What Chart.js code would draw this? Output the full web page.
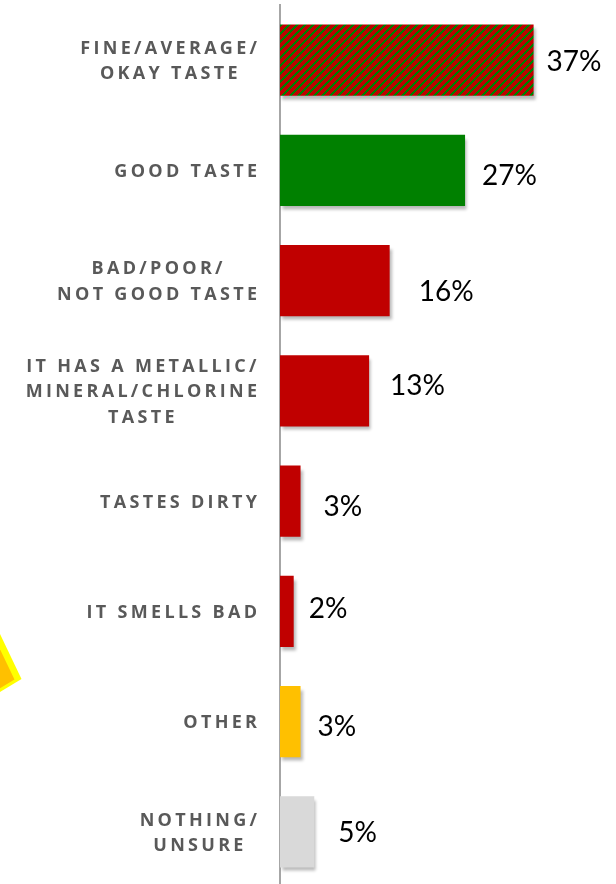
<!DOCTYPE html>
<html>
<head>
<meta charset="utf-8">
<script src="https://cdn.jsdelivr.net/npm/chart.js@4/dist/chart.umd.min.js"></script>
<style>
  html, body { margin: 0; padding: 0; background: #ffffff; overflow: hidden; }
  #wrap { width: 616px; height: 884px; overflow: hidden; }
  canvas { display: block; }
</style>
</head>
<body>
<div id="wrap"><canvas id="c" width="616" height="887"></canvas></div>
<script>
// Survey answers about tap-water taste (share of respondents, %)
const categories = [
  ['FINE/AVERAGE/', 'OKAY TASTE'],
  ['GOOD TASTE'],
  ['BAD/POOR/', 'NOT GOOD TASTE'],
  ['IT HAS A METALLIC/', 'MINERAL/CHLORINE', 'TASTE'],
  ['TASTES DIRTY'],
  ['IT SMELLS BAD'],
  ['OTHER'],
  ['NOTHING/', 'UNSURE']
];
const values = [37, 27, 16, 13, 3, 2, 3, 5];
const valueLabels = ['37%', '27%', '16%', '13%', '3%', '2%', '3%', '5%'];

// Colours
const RED = '#C00000';
const GREEN = '#008000';
const AMBER = '#FFC000';
const GREY = '#D9D9D9';

// Red/green upward-diagonal stripe fill for the mixed answer
function stripePattern() {
  const t = document.createElement('canvas');
  t.width = 8; t.height = 8;
  const g = t.getContext('2d');
  for (let x = 0; x < 8; x++) {
    for (let y = 0; y < 8; y++) {
      g.fillStyle = ((x + y) % 8) < 3 ? GREEN : RED;
      g.fillRect(x, y, 1, 1);
    }
  }
  return document.getElementById('c').getContext('2d').createPattern(t, 'repeat');
}
const barColors = [stripePattern(), GREEN, RED, RED, RED, RED, AMBER, GREY];

// Small nudges for the value labels: [dx from bar end, dy from bar centre]
const labelNudge = [[13, 0], [17, 4], [29, 10], [21, -6], [23, 4], [15, -4], [17, 4], [24, 0]];

const shadowPlugin = {
  id: 'barShadow',
  beforeDatasetsDraw(chart) {
    const ctx = chart.ctx;
    ctx.save();
    ctx.shadowColor = 'rgba(0,0,0,0.28)';
    ctx.shadowBlur = 3;
    ctx.shadowOffsetX = 2;
    ctx.shadowOffsetY = 4;
  },
  afterDatasetsDraw(chart) {
    chart.ctx.restore();
  }
};

const decorPlugin = {
  id: 'decor',
  beforeDraw(chart) {
    const ctx = chart.ctx;
    ctx.save();
    ctx.fillStyle = '#FFFF00';
    ctx.beginPath();
    ctx.moveTo(-30, 571);
    ctx.lineTo(21.5, 679);
    ctx.lineTo(-30, 710);
    ctx.closePath();
    ctx.fill();
    ctx.fillStyle = AMBER;
    ctx.beginPath();
    ctx.moveTo(-30, 587);
    ctx.lineTo(14.5, 679.5);
    ctx.lineTo(-30, 706);
    ctx.closePath();
    ctx.fill();
    ctx.restore();
  }
};

const labelPlugin = {
  id: 'labels',
  afterDraw(chart) {
    const ctx = chart.ctx;
    const yScale = chart.scales.y;
    const meta = chart.getDatasetMeta(0);
    ctx.save();

    // Category labels: bold, spaced capitals, lines centred inside a right-aligned block
    const spacing = 3.3;
    ctx.font = 'bold 18px "Open Sans"';
    ctx.letterSpacing = spacing + 'px';
    ctx.fillStyle = '#595959';
    ctx.textAlign = 'left';
    ctx.textBaseline = 'alphabetic';
    const cap = ctx.measureText('H').actualBoundingBoxAscent;
    const lineH = 25.5;
    const rightEdge = 257;
    categories.forEach((lines, i) => {
      const cy = yScale.getPixelForValue(i);
      const widths = lines.map(l => ctx.measureText(l).width - spacing);
      const blockW = Math.max(...widths);
      const cx = rightEdge - blockW / 2;
      lines.forEach((l, k) => {
        const ly = cy + (k - (lines.length - 1) / 2) * lineH;
        ctx.fillText(l, cx - widths[k] / 2, ly + cap / 2);
      });
    });

    // Value labels next to the bar ends
    ctx.letterSpacing = '0px';
    ctx.font = '28px Lato';
    ctx.fillStyle = '#000000';
    meta.data.forEach((bar, i) => {
      const txt = valueLabels[i];
      const m = ctx.measureText(txt);
      const asc = m.actualBoundingBoxAscent, desc = m.actualBoundingBoxDescent;
      const x = bar.x + labelNudge[i][0];
      const y = bar.y + labelNudge[i][1] + (asc - desc) / 2;
      ctx.fillText(txt, x, y);
    });
    ctx.restore();
  }
};

new Chart(document.getElementById('c'), {
  type: 'bar',
  data: {
    labels: categories,
    datasets: [{
      data: values,
      backgroundColor: barColors,
      borderWidth: 0,
      barPercentage: 0.645,
      categoryPercentage: 1
    }]
  },
  options: {
    indexAxis: 'y',
    responsive: false,
    animation: false,
    devicePixelRatio: 1,
    layout: { padding: { top: 5, right: 7, bottom: 0, left: 0 } },
    plugins: { legend: { display: false }, tooltip: { enabled: false } },
    scales: {
      x: { display: false, min: 0, max: 48 },
      y: {
        ticks: { display: false },
        grid: { display: false },
        border: { display: true, color: '#A6A6A6', width: 2 },
        afterFit(scale) { scale.width = 280; }
      }
    }
  },
  plugins: [decorPlugin, shadowPlugin, labelPlugin]
});
</script>
</body>
</html>
